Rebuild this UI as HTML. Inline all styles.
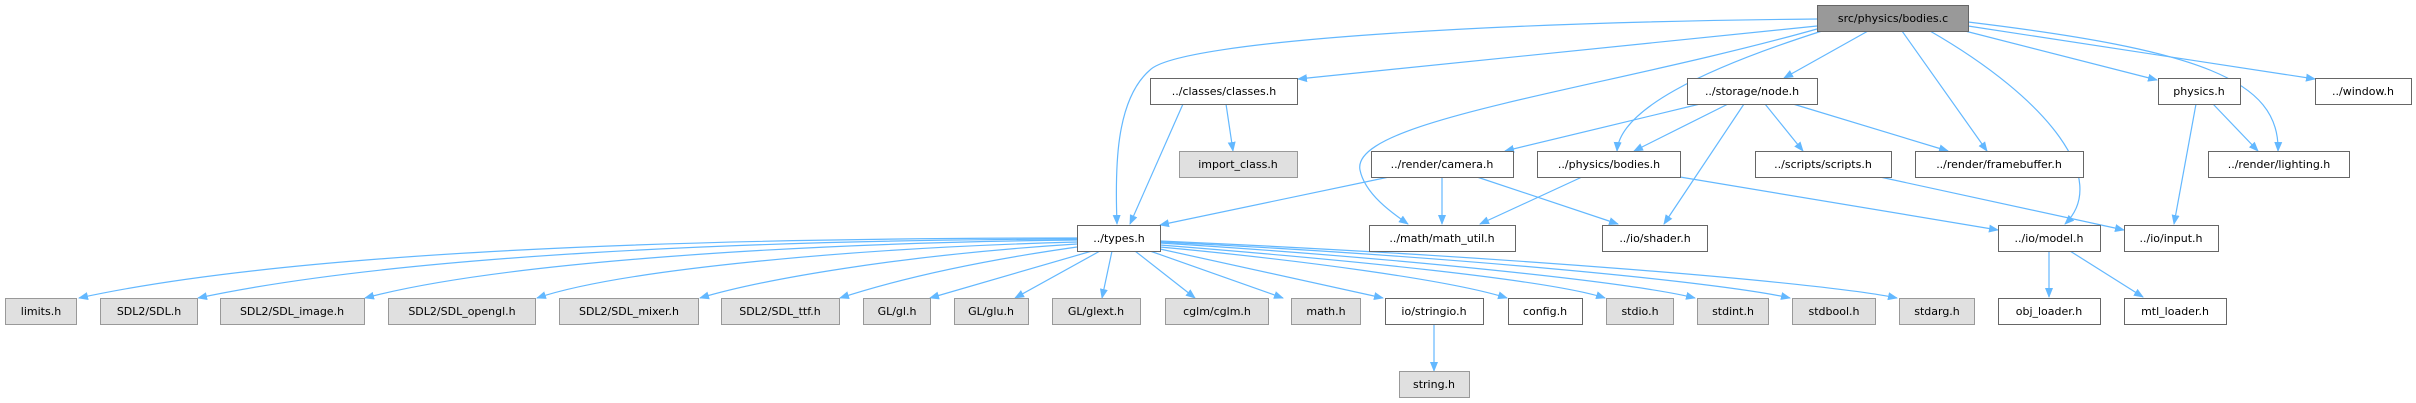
<!DOCTYPE html>
<html><head><meta charset="utf-8"><style>
html,body{margin:0;padding:0;background:#fff;}
svg{display:block}
text{font-family:"DejaVu Sans","Liberation Sans",sans-serif;font-size:11px;fill:#000}
</style></head><body>
<svg width="2416" height="403" viewBox="0 0 2416 403" xmlns="http://www.w3.org/2000/svg">
<defs><marker id="a" markerWidth="10" markerHeight="10" refX="9" refY="5" orient="auto" markerUnits="userSpaceOnUse"><path d="M0,1 L10,5 L0,9 z" fill="#63b8ff"/></marker></defs>
<g fill="none" stroke="#63b8ff" stroke-width="1.2" marker-end="url(#a)">
<path d="M1817,19 C1500,22 1180,40 1150,70 C1115,100 1115,170 1117,224"/>
<path d="M1817,26 L1298,79"/>
<path d="M1817,29 C1600,90 1350,120 1360,170 C1365,195 1395,215 1408,224"/>
<path d="M1822,31 C1700,70 1620,110 1617,151"/>
<path d="M1868,31 L1784,78"/>
<path d="M1902,31 L1987,151"/>
<path d="M1930,31 C2050,100 2110,180 2065,224"/>
<path d="M1965,31 L2157,80"/>
<path d="M1968,26 L2315,79"/>
<path d="M1968,22 C2200,50 2280,80 2278,151"/>
<path d="M1183,104 L1130,224"/>
<path d="M1226,104 L1233,151"/>
<path d="M1700,104 L1505,151"/>
<path d="M1728,104 L1634,151"/>
<path d="M1744,104 L1664,224"/>
<path d="M1765,104 L1803,151"/>
<path d="M1793,104 L1948,151"/>
<path d="M2213,104 L2258,151"/>
<path d="M2196,104 L2174,224"/>
<path d="M1389,177 L1160,225"/>
<path d="M1442,177 L1442,224"/>
<path d="M1477,177 L1618,224"/>
<path d="M1582,177 L1480,224"/>
<path d="M1680,177 L1998,230"/>
<path d="M1880,177 L2124,230"/>
<path d="M2049,251 L2049,297"/>
<path d="M2070,251 L2143,297"/>
<path d="M1434,324 L1434,371"/>
<path d="M1077,238 C700,238 300,250 79,298"/>
<path d="M1077,239 C750,240 400,255 198,298"/>
<path d="M1077,240 C800,243 500,262 365,298"/>
<path d="M1077,242 C850,248 620,270 537,298"/>
<path d="M1077,244 C900,255 760,280 700,298"/>
<path d="M1077,247 C950,265 880,285 840,298"/>
<path d="M1092,251 L930,298"/>
<path d="M1100,251 L1015,298"/>
<path d="M1112,251 L1102,298"/>
<path d="M1135,251 L1195,298"/>
<path d="M1150,251 L1283,298"/>
<path d="M1160,249 L1383,298"/>
<path d="M1160,247 C1300,260 1450,280 1507,298"/>
<path d="M1160,245 C1350,260 1550,280 1605,298"/>
<path d="M1160,243 C1400,258 1630,282 1695,298"/>
<path d="M1160,242 C1450,256 1720,282 1790,298"/>
<path d="M1160,241 C1500,256 1820,282 1897,298"/>
</g>
<g stroke-width="1">
<rect x="1817.5" y="5.5" width="151" height="26" fill="#999" stroke="#666"/>
<rect x="1150.5" y="78.5" width="147" height="26" fill="#fff" stroke="#666"/>
<rect x="1687.5" y="78.5" width="130" height="26" fill="#fff" stroke="#666"/>
<rect x="2158.5" y="78.5" width="82" height="26" fill="#fff" stroke="#666"/>
<rect x="2315.5" y="78.5" width="96" height="26" fill="#fff" stroke="#666"/>
<rect x="1179.5" y="151.5" width="118" height="26" fill="#e0e0e0" stroke="#999"/>
<rect x="1371.5" y="151.5" width="142" height="26" fill="#fff" stroke="#666"/>
<rect x="1537.5" y="151.5" width="143" height="26" fill="#fff" stroke="#666"/>
<rect x="1755.5" y="151.5" width="136" height="26" fill="#fff" stroke="#666"/>
<rect x="1915.5" y="151.5" width="168" height="26" fill="#fff" stroke="#666"/>
<rect x="2208.5" y="151.5" width="141" height="26" fill="#fff" stroke="#666"/>
<rect x="1077.5" y="225.5" width="83" height="26" fill="#fff" stroke="#666"/>
<rect x="1369.5" y="225.5" width="146" height="26" fill="#fff" stroke="#666"/>
<rect x="1602.5" y="225.5" width="105" height="26" fill="#fff" stroke="#666"/>
<rect x="1998.5" y="225.5" width="102" height="26" fill="#fff" stroke="#666"/>
<rect x="2124.5" y="225.5" width="94" height="26" fill="#fff" stroke="#666"/>
<g fill="#e0e0e0" stroke="#999">
<rect x="5.5" y="298.5" width="71" height="26"/>
<rect x="100.5" y="298.5" width="97" height="26"/>
<rect x="220.5" y="298.5" width="144" height="26"/>
<rect x="388.5" y="298.5" width="147" height="26"/>
<rect x="559.5" y="298.5" width="139" height="26"/>
<rect x="721.5" y="298.5" width="118" height="26"/>
<rect x="863.5" y="298.5" width="67" height="26"/>
<rect x="954.5" y="298.5" width="74" height="26"/>
<rect x="1052.5" y="298.5" width="88" height="26"/>
<rect x="1165.5" y="298.5" width="103" height="26"/>
<rect x="1291.5" y="298.5" width="69" height="26"/>
<rect x="1606.5" y="298.5" width="67" height="26"/>
<rect x="1697.5" y="298.5" width="71" height="26"/>
<rect x="1792.5" y="298.5" width="83" height="26"/>
<rect x="1899.5" y="298.5" width="75" height="26"/>
<rect x="1399.5" y="371.5" width="70" height="26"/>
</g>
<rect x="1385.5" y="298.5" width="98" height="26" fill="#fff" stroke="#666"/>
<rect x="1508.5" y="298.5" width="74" height="26" fill="#fff" stroke="#666"/>
<rect x="1998.5" y="298.5" width="102" height="26" fill="#fff" stroke="#666"/>
<rect x="2124.5" y="298.5" width="102" height="26" fill="#fff" stroke="#666"/>
</g>
<g text-anchor="middle">
<text x="1893" y="22">src/physics/bodies.c</text>
<text x="1224" y="95">../classes/classes.h</text>
<text x="1752" y="95">../storage/node.h</text>
<text x="2199" y="95">physics.h</text>
<text x="2363" y="95">../window.h</text>
<text x="1238" y="168">import_class.h</text>
<text x="1442" y="168">../render/camera.h</text>
<text x="1609" y="168">../physics/bodies.h</text>
<text x="1823" y="168">../scripts/scripts.h</text>
<text x="1999" y="168">../render/framebuffer.h</text>
<text x="2279" y="168">../render/lighting.h</text>
<text x="1119" y="242">../types.h</text>
<text x="1442" y="242">../math/math_util.h</text>
<text x="1655" y="242">../io/shader.h</text>
<text x="2049" y="242">../io/model.h</text>
<text x="2171" y="242">../io/input.h</text>
<text x="41" y="315">limits.h</text>
<text x="149" y="315">SDL2/SDL.h</text>
<text x="292" y="315">SDL2/SDL_image.h</text>
<text x="462" y="315">SDL2/SDL_opengl.h</text>
<text x="629" y="315">SDL2/SDL_mixer.h</text>
<text x="780" y="315">SDL2/SDL_ttf.h</text>
<text x="897" y="315">GL/gl.h</text>
<text x="991" y="315">GL/glu.h</text>
<text x="1096" y="315">GL/glext.h</text>
<text x="1217" y="315">cglm/cglm.h</text>
<text x="1326" y="315">math.h</text>
<text x="1434" y="315">io/stringio.h</text>
<text x="1545" y="315">config.h</text>
<text x="1640" y="315">stdio.h</text>
<text x="1733" y="315">stdint.h</text>
<text x="1834" y="315">stdbool.h</text>
<text x="1937" y="315">stdarg.h</text>
<text x="2049" y="315">obj_loader.h</text>
<text x="2175" y="315">mtl_loader.h</text>
<text x="1434" y="388">string.h</text>
</g>
</svg>
</body></html>
